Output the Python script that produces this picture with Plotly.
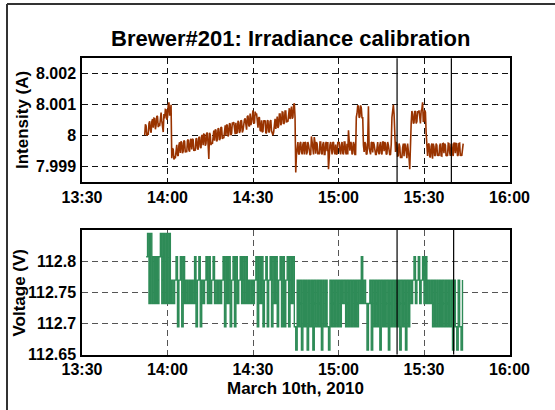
import numpy as np
import pandas as pd
import plotly.graph_objects as go

W, H = 555, 410

def px(x):
    return x / W

def py(y):
    return 1 - y / H

# ---------------- data ----------------
# Intensity: offsets from 8 A in units of 1e-5 A.
# *_on: readings every 30 s from 13:52:00; *_mid: readings 15 s after each of those.
intensity_a_on = [2, 32, 10, 40, 18, 46, 26, 56, 34, 62, 40, 70, 48, 12, 56, 84, 60, 108, 74]
intensity_a_mid = [37, 0, 3, 47, 10, 54, 57, 21, 64, 28, 31, 75, 30, 70, 85, 52, 98, 65, 100]
intensity_b_on = [-72, -44, -70, -38, -62, -30, -55, -22, -50, -18,
                  -48, -16, -46, -14, -44, -12, -42, -10, -40, -6,
                  -36, 0, -30, 4, -26, 8, -75, 4, -22, 12,
                  -16, 18, -12, 22, -8, 26, -4, 30, 0, 34,
                  4, 38, 8, 40, 10, 42, 12, 44, 16, 48,
                  18, 52, 24, 62, 34, 72, 44, 82, 40, 70,
                  30, 58, 18, 50, 14, 46, 8, 48, 14, 46,
                  16, 2, 52, 22, 62, 32, 70, 40, 76, 42,
                  80, 48, 86, 54, 94, 60, 105]
intensity_b_mid = [-40, -76, -72, -29, -65, -21, -18, -56, -15, -54,
                   -53, -12, -51, -10, -10, -49, -48, -8, -45, -3,
                   -40, 3, 5, -32, 10, -28, 10, -30, -26, 17,
                   20, -18, 24, -14, 28, -10, -8, 34, 36, -2,
                   40, 2, 43, 44, 5, 7, 48, 9, 50, 11,
                   52, 56, 20, 65, 30, 35, 80, 42, 78, 72,
                   26, 60, 15, 12, 50, 50, 10, 50, 11, 51,
                   11, 12, 55, 60, 25, 70, 34, 77, 38, 80,
                   43, 46, 89, 92, 55, 97, 60]
intensity_c_on = [-118, -30, -58, -24, -52, -28, -60, -22, -54, -30,
                  -62, -2, -50, -4, -58, -26, -52, -20, -56, -28,
                  -60, -24, -50, -108, -30, -56, -22, -52, -28, -58,
                  -24, -50, -30, -56, -20, -54, -26, 18, -48, -24,
                  -56, -28, -60, 72, 95, 62, 90, 58, -52, -26,
                  -58, 95, -50, -22, -54, -28, -60, -24, -52, -30,
                  -56, -20, -50, -26, -58, -30, -62, -28, 88, 70,
                  -52, -30, -64, -34, -70, -38, -66, -32, -72, -40,
                  -108, 40, 70, 42, 78, 46, 74, 40, 80, 108,
                  48, 76, -58, -28, -66, -34, -74, -36, -62, -30,
                  -58, -32, -64, -26, -56, -30, -62, -24, -54, -28,
                  -60, -22, -56, -26, -62, -24, -58, -30]
intensity_c_mid = [-60, -20, -60, -20, -60, -20, -20, -60, -20, -60,
                   -60, -20, -60, -20, -20, -60, -60, -20, -60, -20,
                   -60, -20, -20, -60, -20, -60, -20, -60, -60, -20,
                   -20, -60, -20, -60, -20, -60, -60, -20, -20, -60,
                   -20, -60, 60, 98, 58, 98, 58, -30, -20, -60,
                   -20, -40, -60, -20, -20, -60, -60, -20, -60, -20,
                   -60, -20, -20, -60, -20, -60, -60, 60, 100, 10,
                   -20, -65, -25, -70, -70, -25, -25, -65, -25, -70,
                   20, 80, 40, 80, 40, 80, 82, 40, 85, 45,
                   82, 10, -65, -25, -70, -25, -25, -65, -25, -65,
                   -65, -25, -65, -25, -25, -65, -65, -25, -65, -25,
                   -65, -25, -25, -65, -25, -65, -65, -25]
intensity_start = "2010-03-10 13:52:00"

# Voltage: quantised levels (V) and level index per reading, every 30 s from 13:52:30
voltage_levels = [112.657, 112.6945, 112.732, 112.7695, 112.807, 112.8445]
voltage_idx_a = [4, 5, 2, 5, 2, 4, 2, 4, 2, 4, 5, 2, 5, 2, 5, 2, 5, 2]
voltage_idx_b = [3, 2, 3, 4, 1, 3, 4, 1, 4, 2,
                 3, 2, 3, 2, 3, 2, 4, 1, 3, 4,
                 1, 3, 2, 3, 4, 2, 4, 2, 3, 4,
                 2, 3, 2, 3, 2, 3, 4, 1, 4, 2,
                 4, 1, 3, 4, 1, 4, 2, 3, 4, 2,
                 4, 2, 4, 2, 3, 2, 3, 2, 3, 4,
                 1, 4, 2, 4, 1, 3, 4, 1, 3, 4,
                 1, 4, 2, 4, 1, 3, 4, 1, 4, 1,
                 3, 4, 1, 4, 2, 4, 1, 0, 3]
voltage_idx_c = [1, 3, 0, 3, 1, 3, 0, 3, 1, 3,
                 0, 3, 1, 3, 1, 3, 0, 3, 1, 3,
                 1, 0, 3, 1, 3, 1, 3, 1, 3, 1,
                 3, 2, 3, 1, 3, 1, 3, 1, 3, 1,
                 3, 1, 3, 2, 4, 2, 3, 2, 0, 2,
                 3, 0, 3, 1, 3, 1, 3, 0, 3, 1,
                 3, 1, 3, 0, 3, 1, 3, 1, 3, 1,
                 3, 0, 3, 1, 3, 0, 3, 1, 3, 2,
                 3, 4, 2, 3, 4, 2, 3, 4, 2, 4,
                 2, 3, 2, 3, 1, 3, 1, 3, 1, 3,
                 1, 3, 1, 3, 1, 3, 1, 3, 0, 3,
                 1, 0, 3, 1, 0, 3]
voltage_start = "2010-03-10 13:52:30"
sample_seconds = 30

# vertical marker lines
marker_times_top = ["2010-03-10 15:20:33", "2010-03-10 15:39:36"]
marker_times_bottom = ["2010-03-10 15:20:33", "2010-03-10 15:40:24"]

# ticks
x_tick_vals = ["2010-03-10 13:30", "2010-03-10 14:00", "2010-03-10 14:30",
               "2010-03-10 15:00", "2010-03-10 15:30", "2010-03-10 16:00"]
x_tick_text = ["13:30", "14:00", "14:30", "15:00", "15:30", "16:00"]
x_range = ["2010-03-10 13:30", "2010-03-10 16:00"]
y1_tick_vals = [7.999, 8.0, 8.001, 8.002]
y1_tick_text = ["7.999", "8", "8.001", "8.002"]
y1_range = [7.9985, 8.0025]
y2_tick_vals = [112.65, 112.7, 112.75, 112.8]
y2_tick_text = ["112.65", "112.7", "112.75", "112.8"]
y2_range = [112.65, 112.85]

title_text = "Brewer#201: Irradiance calibration"
y1_title = "Intensity (A)"
y2_title = "Voltage (V)"
x_title = "March 10th, 2010"

# ---------------- build ----------------
on_vals = intensity_a_on + intensity_b_on + intensity_c_on
mid_vals = intensity_a_mid + intensity_b_mid + intensity_c_mid
n_on = len(on_vals)
t_on = pd.Timestamp(intensity_start) + pd.to_timedelta(np.arange(n_on) * sample_seconds, unit="s")
t_mid = t_on + pd.Timedelta(seconds=sample_seconds // 2)
t_int = []
v_int = []
for k in range(n_on):
    t_int.append(t_on[k]); v_int.append(on_vals[k])
    if k < len(mid_vals):
        t_int.append(t_mid[k]); v_int.append(mid_vals[k])
intensity = 8 + np.array(v_int) * 1e-5

v_idx = voltage_idx_a + voltage_idx_b + voltage_idx_c
voltage = np.array(voltage_levels)[v_idx]
t_volt = pd.Timestamp(voltage_start) + pd.to_timedelta(np.arange(len(v_idx)) * sample_seconds, unit="s")

FONT = "Liberation Sans, Arial, sans-serif"

fig = go.Figure()
fig.add_trace(go.Scatter(x=t_int, y=intensity, mode="lines",
                         line=dict(color="#993300", width=1.6),
                         xaxis="x", yaxis="y", showlegend=False))
fig.add_trace(go.Scatter(x=t_volt, y=voltage, mode="lines",
                         line=dict(color="#2E8B57", width=1.4, shape="hv"),
                         xaxis="x2", yaxis="y2", showlegend=False))

for t in marker_times_top:
    fig.add_shape(type="line", x0=t, x1=t, y0=0, y1=1, xref="x", yref="y domain",
                  line=dict(color="black", width=1.2))
for t in marker_times_bottom:
    fig.add_shape(type="line", x0=t, x1=t, y0=0, y1=1, xref="x2", yref="y2 domain",
                  line=dict(color="black", width=1.2))

# figure frame (top & left edges visible)
fig.add_shape(type="line", xref="paper", yref="paper", x0=px(7), x1=1.0, y0=py(4), y1=py(4),
              line=dict(color="#333333", width=2))
fig.add_shape(type="line", xref="paper", yref="paper", x0=px(7), x1=px(7), y0=py(4), y1=0.0,
              line=dict(color="#333333", width=2))

tickfont = dict(family=FONT, size=16, color="black", weight="bold")

def xaxis_common(anchor, gridcolor, gw):
    return dict(anchor=anchor, domain=[px(82), px(509.5)], type="date", range=x_range,
                tickvals=x_tick_vals, ticktext=x_tick_text, tickfont=tickfont,
                showgrid=True, gridcolor=gridcolor, griddash="6px,4px", gridwidth=gw,
                showline=True, linecolor="black", linewidth=1.5, mirror=True,
                ticks="", zeroline=False, automargin=False)

def yaxis_common(anchor, dom, rng, tv, tt, gridcolor, gw):
    return dict(anchor=anchor, domain=dom, range=rng, tickvals=tv, ticktext=tt,
                tickfont=tickfont, showgrid=True, gridcolor=gridcolor,
                griddash="6px,4px", gridwidth=gw, showline=True, linecolor="black",
                linewidth=1.5, mirror=True, ticks="outside", ticklen=1,
                tickcolor="rgba(0,0,0,0)", zeroline=False, automargin=False)

fig.update_layout(
    width=W, height=H, autosize=False,
    margin=dict(l=0, r=0, t=0, b=0, pad=0, autoexpand=False),
    paper_bgcolor="white", plot_bgcolor="white",
    xaxis=xaxis_common("y", "#111111", 1.1),
    yaxis=yaxis_common("x", [py(182.3), py(58.3)], y1_range, y1_tick_vals, y1_tick_text, "#111111", 1.1),
    xaxis2=xaxis_common("y2", "#555555", 1.4),
    yaxis2=yaxis_common("x2", [py(354.5), py(230)], y2_range, y2_tick_vals, y2_tick_text, "#555555", 1.4),
    showlegend=False,
)

fig.add_annotation(text=title_text, xref="paper", yref="paper", x=px(290.5), y=py(39),
                   xanchor="center", yanchor="middle", showarrow=False,
                   font=dict(family=FONT, size=22, color="black", weight="bold"))
fig.add_annotation(text=y1_title, xref="paper", yref="paper", x=px(22), y=py(120),
                   xanchor="center", yanchor="middle", showarrow=False, textangle=-90,
                   font=dict(family=FONT, size=17, color="black", weight="bold"))
fig.add_annotation(text=y2_title, xref="paper", yref="paper", x=px(19), y=py(292.5),
                   xanchor="center", yanchor="middle", showarrow=False, textangle=-90,
                   font=dict(family=FONT, size=17, color="black", weight="bold"))
fig.add_annotation(text=x_title, xref="paper", yref="paper", x=px(295.5), y=py(388),
                   xanchor="center", yanchor="middle", showarrow=False,
                   font=dict(family=FONT, size=17, color="black", weight="bold"))

fig.write_html("out.html", config={"displayModeBar": False},
               post_script="document.body.style.margin='0px';")
